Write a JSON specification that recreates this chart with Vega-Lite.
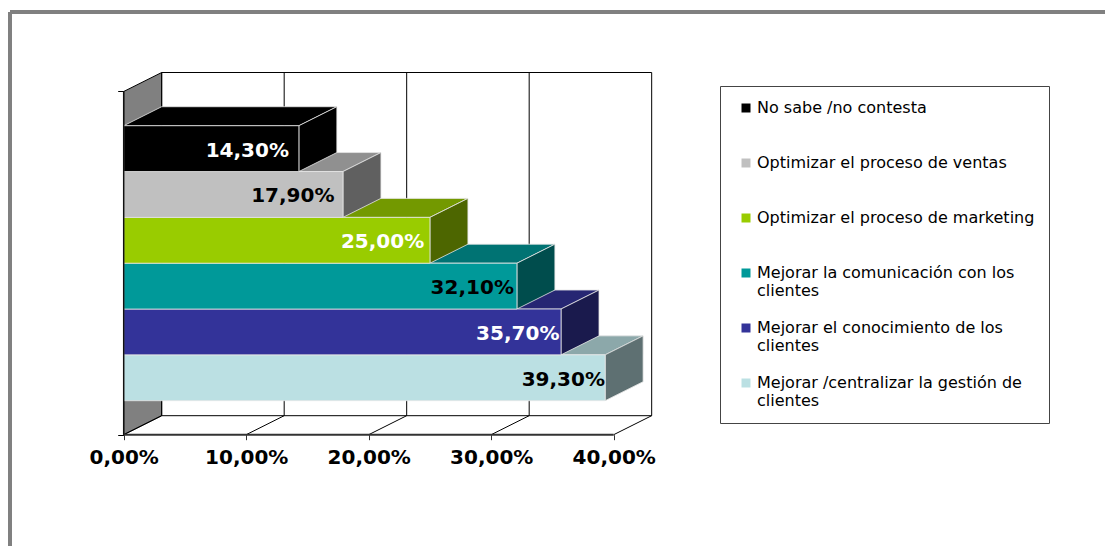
{
  "$schema": "https://vega.github.io/schema/vega-lite/v6.json",
  "autosize": {"type": "none"},
  "width": 1095,
  "height": 534,
  "padding": {"left": 10, "top": 12, "right": 0, "bottom": 0},
  "background": "#ffffff",
  "config": {
    "view": {"stroke": null},
    "locale": {"number": {"decimal": ",", "thousands": ".", "grouping": [3], "currency": ["", " €"]}}
  },
  "params": [
    {"name": "fondoX", "value": 0.031},
    {"name": "fondoY", "value": 0.4146},
    {"name": "suelo", "value": -0.742},
    {"name": "techo", "value": 6.747}
  ],
  "datasets": {
    "barras": [
      {"categoria": "Mejorar /centralizar la gestión de clientes", "valor": 0.393, "orden": 0},
      {"categoria": "Mejorar el conocimiento de los clientes", "valor": 0.357, "orden": 1},
      {"categoria": "Mejorar la comunicación con los clientes", "valor": 0.321, "orden": 2},
      {"categoria": "Optimizar el proceso de marketing", "valor": 0.25, "orden": 3},
      {"categoria": "Optimizar el proceso de ventas", "valor": 0.179, "orden": 4},
      {"categoria": "No sabe /no contesta", "valor": 0.143, "orden": 5}
    ],
    "marcas": [{"t": 0}, {"t": 0.1}, {"t": 0.2}, {"t": 0.3}, {"t": 0.4}],
    "paredes": [{"d": 0}, {"d": 1}]
  },
  "layer": [
    {
      "description": "Marco exterior de la diapositiva",
      "data": {"values": [{"borde": "izquierda"}]},
      "mark": {"type": "rule", "color": "#808080", "strokeWidth": 4},
      "encoding": {"x": {"value": 0}}
    },
    {
      "data": {"values": [{"borde": "arriba"}]},
      "mark": {"type": "rule", "color": "#808080", "strokeWidth": 4},
      "encoding": {"y": {"value": 0}}
    },
    {
      "description": "Pared lateral gris del grafico 3D",
      "data": {"name": "paredes"},
      "transform": [
        {"calculate": "datum.d * fondoX", "as": "px"},
        {"calculate": "suelo + datum.d * fondoY", "as": "py0"},
        {"calculate": "techo + datum.d * fondoY", "as": "py1"}
      ],
      "mark": {"type": "area", "fill": "#808080", "stroke": "#000000", "strokeWidth": 1},
      "encoding": {
        "x": {"field": "px", "type": "quantitative", "title": null, "axis": null, "scale": {"domain": [0, 0.45], "range": [113.7, 664.95], "nice": false, "zero": false}},
        "y": {"field": "py0", "type": "quantitative", "stack": null, "title": null, "scale": {"domain": [-0.742, 7.1616], "range": [422.7, 60.5], "nice": false, "zero": false},
          "axis": {"values": [-0.742, 6.747], "labels": false, "domain": false, "grid": false, "ticks": true, "tickSize": 6, "tickColor": "#000000", "offset": -113.7, "title": null}},
        "y2": {"field": "py1"}
      }
    },
    {
      "description": "Lineas de division en la pared del fondo",
      "data": {"name": "marcas"},
      "transform": [
        {"calculate": "datum.t + fondoX", "as": "px"},
        {"calculate": "suelo + fondoY", "as": "py0"},
        {"calculate": "techo + fondoY", "as": "py1"}
      ],
      "mark": {"type": "rule", "color": "#000000", "strokeWidth": 1},
      "encoding": {
        "x": {"field": "px", "type": "quantitative", "axis": null, "title": null},
        "y": {"field": "py0", "type": "quantitative", "axis": null, "title": null},
        "y2": {"field": "py1"}
      }
    },
    {
      "description": "Lineas diagonales del suelo",
      "data": {"name": "marcas"},
      "transform": [
        {"calculate": "datum.t + fondoX", "as": "px"},
        {"calculate": "suelo", "as": "py0"},
        {"calculate": "suelo + fondoY", "as": "py1"}
      ],
      "mark": {"type": "rule", "color": "#000000", "strokeWidth": 1},
      "encoding": {
        "x": {"field": "t", "type": "quantitative", "axis": null, "title": null},
        "x2": {"field": "px"},
        "y": {"field": "py0", "type": "quantitative", "axis": null, "title": null},
        "y2": {"field": "py1"}
      }
    },
    {
      "description": "Bordes horizontales del fondo: arriba y abajo",
      "data": {"values": [{"a": 0, "b": 0.4}]},
      "transform": [
        {"calculate": "datum.a + fondoX", "as": "px0"},
        {"calculate": "datum.b + fondoX", "as": "px1"},
        {"calculate": "techo + fondoY", "as": "py"}
      ],
      "mark": {"type": "rule", "color": "#000000", "strokeWidth": 1},
      "encoding": {
        "x": {"field": "px0", "type": "quantitative", "axis": null, "title": null},
        "x2": {"field": "px1"},
        "y": {"field": "py", "type": "quantitative", "axis": null, "title": null}
      }
    },
    {
      "data": {"values": [{"a": 0, "b": 0.4}]},
      "transform": [
        {"calculate": "datum.a + fondoX", "as": "px0"},
        {"calculate": "datum.b + fondoX", "as": "px1"},
        {"calculate": "suelo + fondoY", "as": "py"}
      ],
      "mark": {"type": "rule", "color": "#000000", "strokeWidth": 1},
      "encoding": {
        "x": {"field": "px0", "type": "quantitative", "axis": null, "title": null},
        "x2": {"field": "px1"},
        "y": {"field": "py", "type": "quantitative", "axis": null, "title": null}
      }
    },
    {
      "description": "Eje de porcentajes en el borde frontal del suelo",
      "data": {"values": [{"a": 0, "b": 0.4}]},
      "transform": [{"calculate": "suelo", "as": "py"}],
      "mark": {"type": "rule", "color": "#333333", "strokeWidth": 2},
      "encoding": {
        "x": {"field": "a", "type": "quantitative", "title": null,
          "axis": {"values": [0, 0.1, 0.2, 0.3, 0.4], "format": ".2%", "domain": false, "grid": false, "ticks": true, "tickSize": 5, "tickColor": "#333333", "labelFont": "DejaVu Sans", "labelFontWeight": "bold", "labelFontSize": 20, "labelColor": "#000000", "labelPadding": 8, "labelFlush": false, "labelOverlap": false, "offset": -111.3, "orient": "bottom", "title": null}},
        "x2": {"field": "b"},
        "y": {"field": "py", "type": "quantitative", "axis": null, "title": null}
      }
    },
    {
      "description": "Cara superior de cada barra",
      "data": {"name": "barras"},
      "transform": [
        {"calculate": "[0, 1]", "as": "d"},
        {"flatten": ["d"]},
        {"calculate": "datum.d * fondoX", "as": "px0"},
        {"calculate": "datum.valor + datum.d * fondoX", "as": "px1"},
        {"calculate": "datum.orden + 1 + datum.d * fondoY", "as": "py"}
      ],
      "mark": {"type": "area", "orient": "horizontal", "stroke": "#e6e6e6", "strokeWidth": 0.8},
      "encoding": {
        "x": {"field": "px0", "type": "quantitative", "stack": null, "axis": null, "title": null},
        "x2": {"field": "px1"},
        "y": {"field": "py", "type": "quantitative", "axis": null, "title": null},
        "color": {"field": "categoria", "type": "nominal", "legend": null,
          "scale": {"domain": ["No sabe /no contesta", "Optimizar el proceso de ventas", "Optimizar el proceso de marketing", "Mejorar la comunicación con los clientes", "Mejorar el conocimiento de los clientes", "Mejorar /centralizar la gestión de clientes"],
            "range": ["#000000", "#909090", "#739900", "#007373", "#262673", "#8CA8AA"]}}
      }
    },
    {
      "description": "Cara lateral de cada barra",
      "data": {"name": "barras"},
      "transform": [
        {"calculate": "[0, 1]", "as": "d"},
        {"flatten": ["d"]},
        {"calculate": "datum.valor + datum.d * fondoX", "as": "px"},
        {"calculate": "datum.orden + datum.d * fondoY", "as": "py0"},
        {"calculate": "datum.orden + 1 + datum.d * fondoY", "as": "py1"}
      ],
      "mark": {"type": "area", "stroke": "#e6e6e6", "strokeWidth": 0.8},
      "encoding": {
        "x": {"field": "px", "type": "quantitative", "axis": null, "title": null},
        "y": {"field": "py0", "type": "quantitative", "stack": null, "axis": null, "title": null},
        "y2": {"field": "py1"},
        "color": {"field": "categoria", "type": "nominal", "legend": null,
          "scale": {"domain": ["No sabe /no contesta", "Optimizar el proceso de ventas", "Optimizar el proceso de marketing", "Mejorar la comunicación con los clientes", "Mejorar el conocimiento de los clientes", "Mejorar /centralizar la gestión de clientes"],
            "range": ["#000000", "#606060", "#4D6600", "#004D4D", "#1A1A4D", "#5E7072"]}}
      }
    },
    {
      "description": "Cara frontal de cada barra, con la leyenda de categorias",
      "data": {"name": "barras"},
      "transform": [
        {"calculate": "datum.orden + 1", "as": "arriba"},
        {"calculate": "0", "as": "origen"}
      ],
      "mark": {"type": "rect", "stroke": "#e6e6e6", "strokeWidth": 0.8},
      "encoding": {
        "x": {"field": "origen", "type": "quantitative", "axis": null, "title": null},
        "x2": {"field": "valor"},
        "y": {"field": "orden", "type": "quantitative", "axis": null, "title": null},
        "y2": {"field": "arriba"},
        "color": {"field": "categoria", "type": "nominal",
          "scale": {"domain": ["No sabe /no contesta", "Optimizar el proceso de ventas", "Optimizar el proceso de marketing", "Mejorar la comunicación con los clientes", "Mejorar el conocimiento de los clientes", "Mejorar /centralizar la gestión de clientes"],
            "range": ["#000000", "#C0C0C0", "#99CC00", "#009999", "#333399", "#BBE0E3"]},
          "legend": {
            "title": null, "orient": "none", "legendX": 710, "legendY": 74,
            "fillColor": "#ffffff", "strokeColor": "#444444", "padding": 14,
            "symbolType": "square", "symbolSize": 81, "symbolStrokeWidth": 0, "symbolOffset": 4,
            "labelFont": "DejaVu Sans", "labelFontSize": 16, "labelColor": "#000000", "labelLimit": 400, "labelOffset": 3,
            "rowPadding": 21,
            "labelExpr": "test(/ clientes$/, datum.label) ? [replace(datum.label, / clientes$/, ''), 'clientes'] : [datum.label, ' ']",
            "encoding": {
              "labels": {"baseline": {"value": "top"}, "dy": {"value": -8}, "lineHeight": {"value": 18}}
            }
          }
        }
      }
    },
    {
      "description": "Linea vertical del eje delante de las barras",
      "data": {"values": [{"a": 0}]},
      "transform": [
        {"calculate": "suelo", "as": "py0"},
        {"calculate": "techo", "as": "py1"}
      ],
      "mark": {"type": "rule", "color": "#111111", "strokeWidth": 1.5},
      "encoding": {
        "x": {"field": "a", "type": "quantitative", "axis": null, "title": null},
        "y": {"field": "py0", "type": "quantitative", "axis": null, "title": null},
        "y2": {"field": "py1"}
      }
    },
    {
      "description": "Etiquetas con el valor de cada barra",
      "data": {"name": "barras"},
      "transform": [
        {"calculate": "datum.orden + 0.5", "as": "medio"},
        {"calculate": "datum.valor * 1.0318 - 0.01265", "as": "px"}
      ],
      "mark": {"type": "text", "align": "right", "baseline": "middle", "font": "DejaVu Sans", "fontWeight": "bold", "fontSize": 20, "dy": 2},
      "encoding": {
        "x": {"field": "px", "type": "quantitative", "axis": null, "title": null},
        "y": {"field": "medio", "type": "quantitative", "axis": null, "title": null},
        "text": {"field": "valor", "type": "quantitative", "format": ".2%"},
        "color": {"field": "categoria", "type": "nominal", "legend": null,
          "scale": {"domain": ["No sabe /no contesta", "Optimizar el proceso de ventas", "Optimizar el proceso de marketing", "Mejorar la comunicación con los clientes", "Mejorar el conocimiento de los clientes", "Mejorar /centralizar la gestión de clientes"],
            "range": ["#ffffff", "#000000", "#ffffff", "#000000", "#ffffff", "#000000"]}}
      }
    }
  ],
  "resolve": {"scale": {"color": "independent"}, "axis": {"x": "independent", "y": "independent"}}
}
